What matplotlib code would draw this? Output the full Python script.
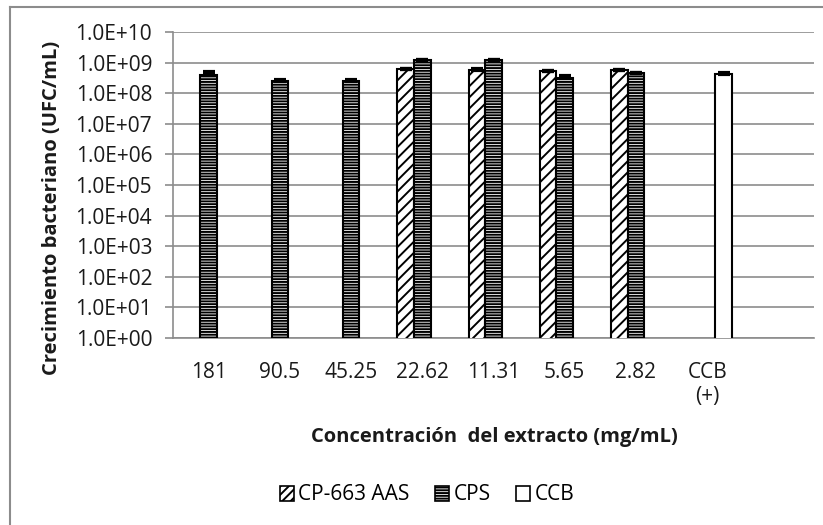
import numpy as np
import matplotlib
matplotlib.use("Agg")
import matplotlib.pyplot as plt
from matplotlib.lines import Line2D
from matplotlib.patches import Patch

# datos
categorias = ["181", "90.5", "45.25", "22.62", "11.31", "5.65", "2.82", "CCB\n(+)", ""]
cp663 = [np.nan, np.nan, np.nan, 6.0e8, 5.9e8, 5.4e8, 5.8e8, np.nan, np.nan]
cp663_err = [0, 0, 0, 0.4e8, 0.3e8, 0, 0, 0, 0]
cps = [3.9e8, 2.6e8, 2.6e8, 1.2e9, 1.2e9, 3.2e8, 4.5e8, np.nan, np.nan]
cps_err = [1.1e8, 0.2e8, 0.15e8, 0.1e8, 0.1e8, 0.5e8, 0.1e8, 0, 0]
ccb = [np.nan] * 7 + [4.3e8, np.nan]
ccb_err = [0] * 7 + [0.35e8, 0]
exponentes = list(range(0, 11))
series = ["CP-663 AAS", "CPS", "CCB"]

plt.rcParams["font.family"] = ["Open Sans", "DejaVu Sans"]
plt.rcParams["hatch.linewidth"] = 1.4
plt.rcParams["hatch.color"] = "black"

W, H = 823, 525
fig = plt.figure(figsize=(W / 100, H / 100), dpi=100)
ax = fig.add_axes([173 / W, 1 - 338 / H, 641 / W, 306 / H])

x = np.arange(len(categorias))
w = 0.232
err_kw = dict(ecolor="black", elinewidth=2, capsize=4, capthick=3)

ax.bar(x - w, cp663, w, yerr=[np.zeros(len(x)), cp663_err], facecolor="white",
       edgecolor="black", linewidth=1.5, hatch="///", error_kw=err_kw, zorder=3)
ax.bar(x, cps, w, yerr=[np.zeros(len(x)), cps_err], facecolor="white",
       edgecolor="black", linewidth=1.5, hatch="------", error_kw=err_kw, zorder=3)
ax.bar(x + w, ccb, w, yerr=[np.zeros(len(x)), ccb_err], facecolor="white",
       edgecolor="black", linewidth=1.5, error_kw=err_kw, zorder=3)

ax.set_yscale("log")
ax.set_ylim(1, 1e10)
ax.set_xlim(-0.5, len(categorias) - 0.5)

ax.set_yticks([10.0 ** e for e in exponentes])
ax.set_yticklabels([f"1.0E+{e:02d}" for e in exponentes])
ax.minorticks_off()
ax.set_xticks(x)
ax.set_xticklabels(categorias)

ax.grid(axis="y", color="#8c8c8c", linewidth=1.2, zorder=0)
for s in ["top", "right"]:
    ax.spines[s].set_visible(False)
for s in ["left", "bottom"]:
    ax.spines[s].set_color("#8c8c8c")
    ax.spines[s].set_linewidth(1.2)

ax.tick_params(axis="y", length=6, width=1.2, color="#8c8c8c", labelsize=15,
               labelcolor="#1a1a1a", pad=9)
ax.tick_params(axis="x", length=0, labelsize=15, labelcolor="#1a1a1a", pad=17)

fig.text(494 / W, 1 - 437 / H, "Concentración  del extracto (mg/mL)", ha="center",
         va="center", fontsize=14.5, fontweight="bold", color="#1a1a1a")
fig.text(52 / W, 1 - 208 / H, "Crecimiento bacteriano (UFC/mL)", ha="center",
         va="center", rotation=90, fontsize=14.5, fontweight="bold", color="#1a1a1a")

handles = [Patch(facecolor="white", edgecolor="black", hatch="////", linewidth=1.2),
           Patch(facecolor="white", edgecolor="black", hatch="------", linewidth=1.2),
           Patch(facecolor="white", edgecolor="black", linewidth=1.2)]
fig.legend(handles, series, loc="center", bbox_to_anchor=(427 / W, 1 - 495 / H),
           ncol=3, frameon=False, fontsize=15, handlelength=0.7, handleheight=0.7,
           handletextpad=0.2, columnspacing=1.2)

# borde exterior del grafico (solo arriba e izquierda visibles)
fig.add_artist(Line2D([10 / W, 10 / W], [0, 1 - 7 / H], color="#8c8c8c", linewidth=1.5))
fig.add_artist(Line2D([10 / W, 1], [1 - 7 / H, 1 - 7 / H], color="#8c8c8c", linewidth=1.5))

fig.savefig("out.png", dpi=100)
